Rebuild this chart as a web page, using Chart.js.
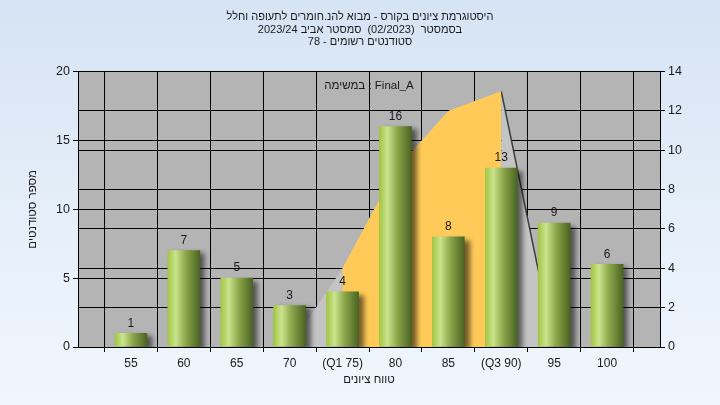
<!DOCTYPE html>
<html>
<head>
<meta charset="utf-8">
<script src="https://cdn.jsdelivr.net/npm/chart.js@4.4.1/dist/chart.umd.min.js"></script>
<style>
  html, body { margin: 0; padding: 0; }
  body { width: 720px; height: 405px; background: linear-gradient(to bottom, #d5e3f4 0%, #e6eff9 55%, #f0f6fd 100%); overflow: hidden; }
  #wrap { width: 720px; height: 405px; position: relative; }
</style>
</head>
<body>
<div id="wrap"><canvas id="c" width="720" height="405"></canvas></div>
<script>
// ---- data ----
const categories = ['', '55', '60', '65', '70', '(Q1 75)', '80', '85', '(Q3 90)', '95', '100', ''];
const counts     = [null, 1, 7, 5, 3, 4, 16, 8, 13, 9, 6, null];
const areaAll    = [null, null, null, null, 0, 4, 9, 12, 13, 0, null, null];
const areaIQR    = [null, null, null, null, null, 4, 9, 12, 13, null, null, null];
const titleLines = [
  'היסטוגרמת ציונים בקורס - מבוא להנ.חומרים לתעופה וחלל',
  'בסמסטר  (02/2023)  סמסטר אביב 2023/24',
  'סטודנטים רשומים - 78'
];
const yTitle = 'מספר סטודנטים';
const xTitle = 'טווח ציונים';
const taskLabel = 'במשימה : Final_A';

const FONT = '"Liberation Sans", "DejaVu Sans", Arial, sans-serif';
const TXT = '#1a1a1a';

function barGradient(c) {
  const chart = c.chart;
  const xs = chart.scales.x;
  if (!xs || c.dataIndex === undefined) return '#9cc23f';
  const cx = xs.getPixelForValue(c.dataIndex);
  if (!isFinite(cx)) return '#9cc23f';
  const half = 16;
  const g = chart.ctx.createLinearGradient(cx - half, 0, cx + half, 0);
  g.addColorStop(0, '#a2c643');
  g.addColorStop(0.25, '#cae48e');
  g.addColorStop(0.55, '#8ea84c');
  g.addColorStop(1, '#4a6322');
  return g;
}

const plotBg = {
  id: 'plotBg',
  beforeDraw(chart) {
    const {ctx, chartArea: a} = chart;
    ctx.save();
    ctx.fillStyle = '#b4b4b4';
    ctx.fillRect(a.left, a.top, a.right - a.left, a.bottom - a.top);
    ctx.restore();
  }
};

const barShadow = {
  id: 'barShadow',
  beforeDatasetDraw(chart, args) {
    if (args.index !== 0) return;
    const ctx = chart.ctx;
    ctx.save();
    ctx.shadowColor = 'rgba(0,0,0,0.55)';
    ctx.shadowBlur = 5;
    ctx.shadowOffsetX = 5;
    ctx.shadowOffsetY = 3;
  },
  afterDatasetDraw(chart, args) {
    if (args.index !== 0) return;
    chart.ctx.restore();
  }
};

const barLabels = {
  id: 'barLabels',
  afterDatasetsDraw(chart) {
    const ctx = chart.ctx;
    const meta = chart.getDatasetMeta(0);
    ctx.save();
    ctx.font = '12px ' + FONT;
    ctx.fillStyle = TXT;
    ctx.textAlign = 'center';
    ctx.textBaseline = 'middle';
    meta.data.forEach((el, i) => {
      const v = counts[i];
      if (v === null || v === undefined) return;
      ctx.fillText(String(v), el.x, el.y - 10);
    });
    const a = chart.chartArea;
    ctx.font = '11.5px ' + FONT;
    ctx.fillText(taskLabel, (a.left + a.right) / 2, a.top + 14);
    ctx.restore();
  }
};

new Chart(document.getElementById('c'), {
  data: {
    labels: categories,
    datasets: [
      {
        type: 'bar',
        data: counts,
        yAxisID: 'y',
        order: 0,
        barThickness: 32,
        backgroundColor: barGradient,
        borderWidth: 0
      },
      {
        type: 'line',
        data: areaIQR,
        yAxisID: 'y2',
        order: 1,
        fill: 'origin',
        backgroundColor: '#ffca58',
        borderColor: 'transparent',
        borderWidth: 0,
        pointRadius: 0,
        tension: 0
      },
      {
        type: 'line',
        data: areaAll,
        yAxisID: 'y2',
        order: 2,
        fill: 'origin',
        backgroundColor: '#c4c4c4',
        borderColor: 'transparent',
        borderWidth: 1.5,
        pointRadius: 0,
        tension: 0,
        segment: {
          borderColor: c => (c.p0DataIndex === 8 ? '#3c3c3c' : undefined)
        }
      }
    ]
  },
  options: {
    responsive: false,
    animation: false,
    devicePixelRatio: 1,
    layout: { padding: 0 },
    plugins: {
      legend: { display: false },
      tooltip: { enabled: false },
      title: {
        display: true,
        text: titleLines,
        color: TXT,
        font: { family: FONT, size: 11, weight: 'normal', lineHeight: 1.14 },
        padding: { top: 11, bottom: 23 }
      }
    },
    scales: {
      x: {
        type: 'category',
        offset: false,
        grid: { color: '#000', lineWidth: 1, tickLength: 5, drawTicks: true },
        border: { color: '#000', width: 1 },
        ticks: { color: TXT, font: { family: FONT, size: 12 }, autoSkip: false, maxRotation: 0, padding: 4 },
        title: { display: true, text: xTitle, color: TXT, font: { family: FONT, size: 11.5 }, padding: { top: 0, bottom: 18 } },
        afterFit: s => { s.height = 58; }
      },
      y: {
        position: 'left',
        min: 0, max: 20,
        ticks: { stepSize: 5, color: TXT, font: { family: FONT, size: 12.5 }, padding: 3 },
        grid: { color: '#000', lineWidth: 1, tickLength: 5 },
        border: { color: '#000', width: 1 },
        title: { display: true, text: yTitle, color: TXT, font: { family: FONT, size: 11.5 }, padding: { top: 26, bottom: 0 } },
        afterFit: s => { s.width = 78; }
      },
      y2: {
        position: 'right',
        min: 0, max: 14,
        ticks: { stepSize: 2, color: TXT, font: { family: FONT, size: 12.5 }, padding: 3 },
        grid: { color: '#000', lineWidth: 1, tickLength: 5 },
        border: { color: '#000', width: 1 },
        afterFit: s => { s.width = 60; }
      }
    }
  },
  plugins: [plotBg, barShadow, barLabels]
});
</script>
</body>
</html>
